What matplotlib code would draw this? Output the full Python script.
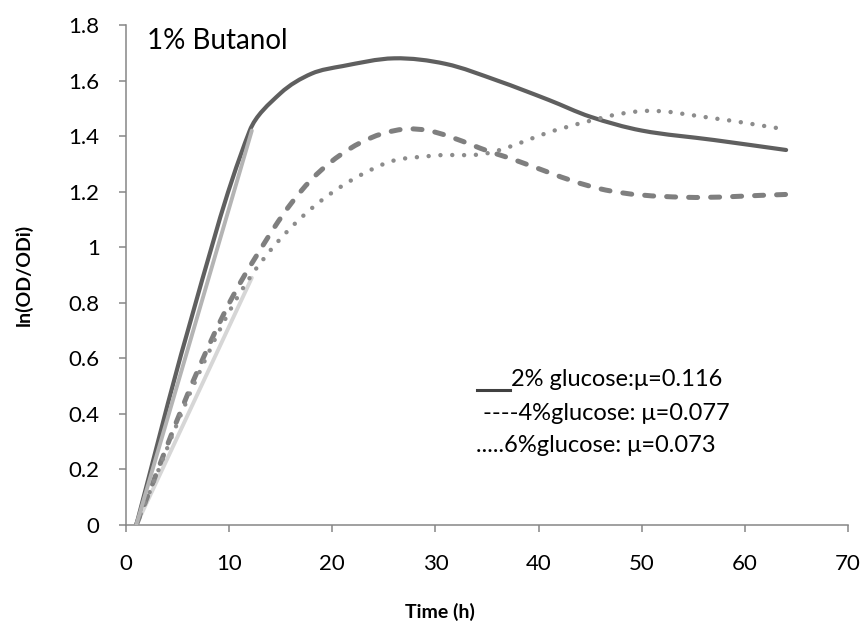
import numpy as np
import matplotlib.pyplot as plt
from matplotlib.path import Path
from matplotlib.patches import PathPatch
from matplotlib.lines import Line2D

plt.rcParams['font.family'] = ['Lato', 'DejaVu Sans']

# values (time in h, ln(OD/ODi))
t_2 = [1, 6, 12, 15, 18, 21, 26, 31, 36, 41, 45, 50, 57, 64]
ln_2 = [0, 0.70, 1.42, 1.555, 1.625, 1.652, 1.68, 1.66, 1.60, 1.53, 1.47, 1.42, 1.386, 1.35]

t_4 = [1, 7, 12, 19, 27, 36, 46, 54, 64]
ln_4 = [0, 0.56, 0.93, 1.28, 1.425, 1.335, 1.21, 1.18, 1.19]

t_6 = [1, 7, 12, 18, 25, 30, 35, 42, 50, 57, 64]
ln_6 = [0, 0.54, 0.89, 1.14, 1.30, 1.33, 1.338, 1.425, 1.49, 1.464, 1.424]

# linear fits over the exponential phase
fit_t = [1, 12.2]
fit_2 = [0, 1.42]
fit_46 = [0, 0.89]

legend_lines = ['2% glucose:\u03bc=0.116', '----4%glucose: \u03bc=0.077',
                '.....6%glucose: \u03bc=0.073']

SX, SY = 722 / 70, 500 / 1.8   # px per unit, used so the smoothing works in screen space


def smooth_path(x, y):
    # smoothed line: cubic Bezier through the points, handles scaled to chord length
    p = np.column_stack([np.array(x) * SX, np.array(y) * SY]).astype(float)
    pp = np.vstack([p[0], p, p[-1]])
    n = len(p)
    dirs = []
    for i in range(n):
        d = pp[i + 2] - pp[i]
        dirs.append(d / np.hypot(*d))
    verts = [p[0]]
    codes = [Path.MOVETO]
    for i in range(n - 1):
        L = np.hypot(*(p[i + 1] - p[i])) / 3
        verts += [p[i] + dirs[i] * L, p[i + 1] - dirs[i + 1] * L, p[i + 1]]
        codes += [Path.CURVE4] * 3
    verts = np.array(verts) / [SX, SY]
    return Path(verts, codes)


fig = plt.figure(figsize=(8.64, 6.3), dpi=100)
ax = fig.add_axes([126 / 864, 1 - 525 / 630, 722 / 864, 500 / 630])

ax.add_patch(PathPatch(smooth_path(t_2, ln_2), fill=False, edgecolor='#5f5f5f',
                       lw=3.0, capstyle='round', joinstyle='round', zorder=3))
ax.add_patch(PathPatch(smooth_path(t_4, ln_4), fill=False, edgecolor='#7f7f7f',
                       lw=3.6, linestyle=(0, (1.8, 2.6)), capstyle='round',
                       joinstyle='round', zorder=3))
ax.add_patch(PathPatch(smooth_path(t_6, ln_6), fill=False, edgecolor='#8c8c8c',
                       lw=3.2, linestyle=(0, (0.01, 2.65)), capstyle='round',
                       joinstyle='round', zorder=3))

ax.plot(fit_t, fit_2, color='#b4b4b4', lw=2.8, solid_capstyle='round', zorder=4)
ax.plot(fit_t, fit_46, color='#d6d6d6', lw=2.8, solid_capstyle='round', zorder=2)

ax.set_xlim(0, 70)
ax.set_ylim(0, 1.8)
ax.set_xticks(range(0, 71, 10))
ax.set_yticks(np.arange(0, 1.81, 0.2))
ax.set_yticklabels(['0', '0.2', '0.4', '0.6', '0.8', '1', '1.2', '1.4', '1.6', '1.8'])

for s in ['top', 'right']:
    ax.spines[s].set_visible(False)
for s in ['left', 'bottom']:
    ax.spines[s].set_color('#868686')
    ax.spines[s].set_linewidth(1.1)
ax.tick_params(axis='both', colors='#868686', length=5, width=1.1,
               labelcolor='black', labelsize=16)
ax.tick_params(axis='y', pad=14)
ax.tick_params(axis='x', pad=16)

ax.set_xlabel('Time (h)', fontsize=14, fontweight='bold')
ax.xaxis.set_label_coords((440 - 126) / 722, -(603 - 525) / 500)
ax.set_ylabel('ln(OD/ODi)', fontsize=14, fontweight='bold')
ax.yaxis.set_label_coords(-(126 - 33) / 722, 0.5)

ax.text(21 / 722, 1 - 3 / 500, '1% Butanol', transform=ax.transAxes,
        fontsize=20, va='top', ha='left')

# text box legend
ys = [380, 413, 446]
xs = [511, 483, 476]
for x, y, s in zip(xs, ys, legend_lines):
    fig.text(x / 864, 1 - y / 630, s, fontsize=17, va='center', ha='left')
fig.add_artist(Line2D([477 / 864, 510 / 864], [1 - 390 / 630, 1 - 390 / 630],
                      color='#404040', lw=2.2))

fig.savefig('out.png', dpi=100)
